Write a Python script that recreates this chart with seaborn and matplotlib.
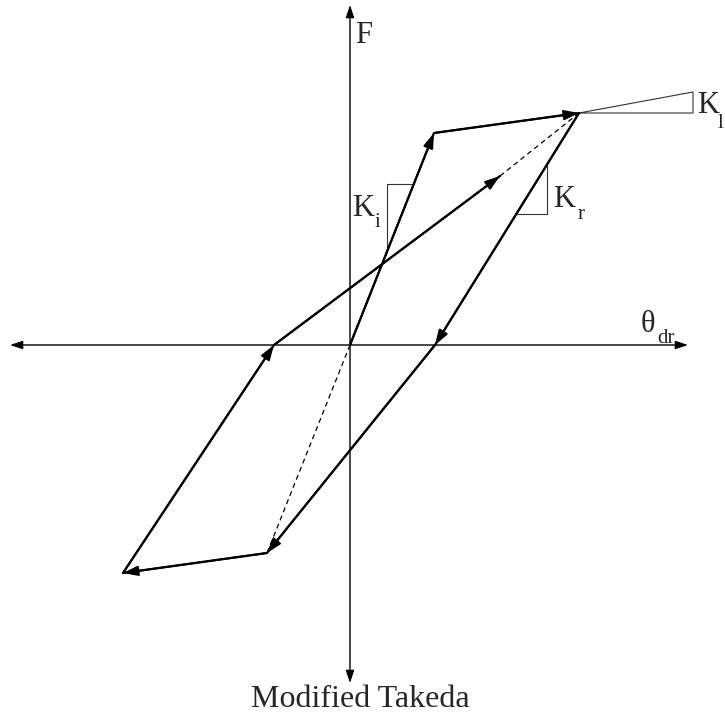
import pandas as pd
import matplotlib
matplotlib.use("Agg")
import matplotlib.pyplot as plt
import seaborn as sns

# Hysteresis path (drift, force) in sketch units
path_x = [0.0, 8.4, 22.9, 8.5, -8.3, -22.7, -7.6, 15.0]
path_y = [0.0, 21.2, 23.2, 0.0, -20.8, -22.8, 0.0, 16.9]

# dashed guide lines: reload target -> peak, origin -> negative yield
dash_a_x = [15.0, 22.9]
dash_a_y = [16.9, 23.2]
dash_b_x = [0.0, -8.3]
dash_b_y = [0.0, -20.8]

# stiffness triangles
ki_x = [6.4, 3.7, 3.7]
ki_y = [16.1, 16.1, 9.4]
kr_x = [19.7, 19.7, 16.7]
kr_y = [18.0, 13.1, 13.1]
kl_x = [22.9, 34.3, 34.3, 22.9]
kl_y = [23.2, 23.2, 25.3, 23.2]

# axis extents
x_axis = [-34.0, 33.8]
y_axis = [-33.8, 34.0]

sns.set_theme(style="white")
plt.rcParams["font.family"] = ["Liberation Serif", "DejaVu Serif"]

fig = plt.figure(figsize=(7.25, 7.15), dpi=100)
ax = fig.add_axes([0, 0, 1, 1])
ax.set_xlim(-35.0, 37.5)
ax.set_ylim(-37.0, 34.5)
ax.set_axis_off()

# axes with arrowheads at both ends
axis_style = dict(arrowstyle="<|-|>,head_length=0.75,head_width=0.25",
                  color="black", lw=1.0, shrinkA=0, shrinkB=0, mutation_scale=10)
ax.annotate("", xy=(x_axis[1], 0), xytext=(x_axis[0], 0), arrowprops=axis_style)
ax.annotate("", xy=(0, y_axis[1]), xytext=(0, y_axis[0]), arrowprops=axis_style)

# main loop
sns.lineplot(x=path_x, y=path_y, sort=False, estimator=None, color="black",
             lw=1.6, ax=ax)
for xs, ys in [(dash_a_x, dash_a_y), (dash_b_x, dash_b_y)]:
    sns.lineplot(x=xs, y=ys, sort=False, estimator=None, color="black",
                 lw=0.9, linestyle=(0, (4, 3)), ax=ax)

# triangles
for xs, ys in [(ki_x, ki_y), (kr_x, kr_y), (kl_x, kl_y)]:
    sns.lineplot(x=xs, y=ys, sort=False, estimator=None, color="#333333",
                 lw=0.8, ax=ax)

# arrowheads on each branch end
head = dict(arrowstyle="-|>,head_length=0.75,head_width=0.25", color="black",
            lw=1.4, shrinkA=0, shrinkB=0, mutation_scale=12)
for i in range(1, len(path_x)):
    ax.annotate("", xy=(path_x[i], path_y[i]),
                xytext=(path_x[i - 1], path_y[i - 1]), arrowprops=head)

# labels
big = 22
small = 15
ax.text(0.5, 30.2, "F", fontsize=big, va="baseline", ha="left")
ax.text(29.1, 1.3, "θ", fontsize=big, va="baseline", ha="left")
ax.text(30.7, 0.2, "dr", fontsize=small, va="baseline", ha="left")
ax.text(0.2, 12.9, "K", fontsize=big, va="baseline", ha="left")
ax.text(2.5, 11.8, "i", fontsize=small, va="baseline", ha="left")
ax.text(20.3, 13.8, "K", fontsize=big, va="baseline", ha="left")
ax.text(22.8, 12.6, "r", fontsize=small, va="baseline", ha="left")
ax.text(34.7, 23.2, "K", fontsize=big, va="baseline", ha="left")
ax.text(36.8, 21.7, "l", fontsize=small, va="baseline", ha="left")
ax.text(1.0, -36.2, "Modified Takeda", fontsize=23, va="baseline", ha="center")

fig.savefig("out.png", dpi=100)
